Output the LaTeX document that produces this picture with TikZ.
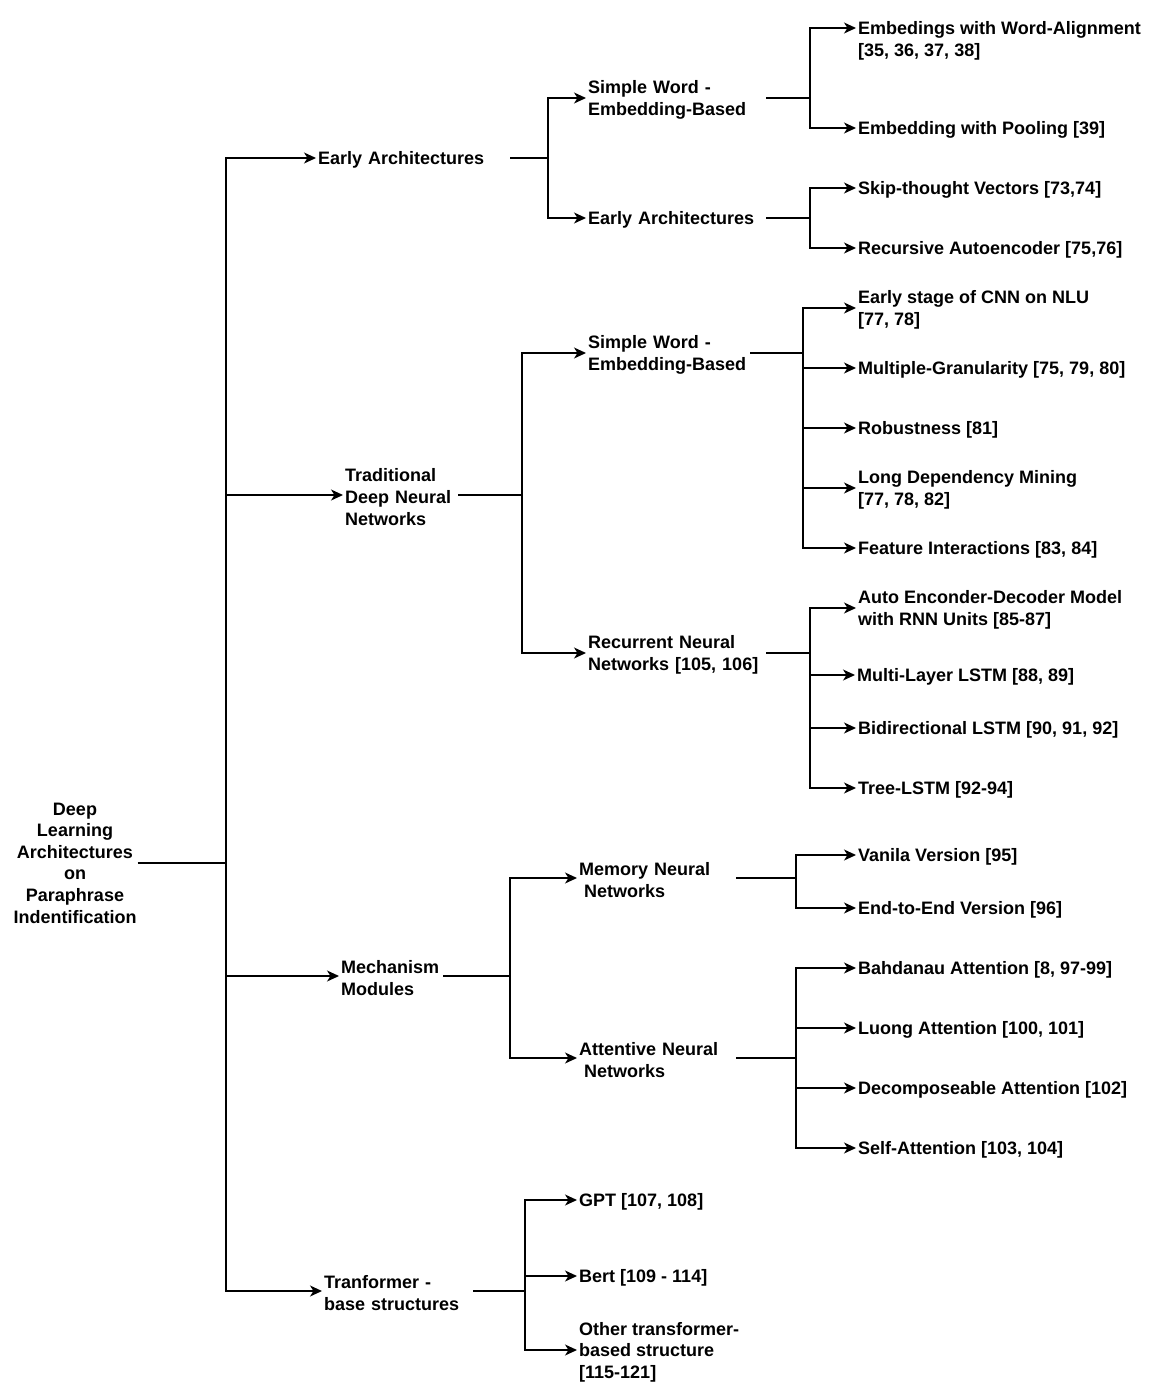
\documentclass[tikz,border=0pt]{standalone}
\usepackage{fontspec}
\setmainfont{Liberation Sans}
\usetikzlibrary{arrows.meta}
\begin{document}
\begin{tikzpicture}[x=1pt,y=-1pt,
  lbl/.style={font=\fontsize{18}{21.6}\selectfont\bfseries, inner xsep=2pt, inner ysep=0pt, align=left, anchor=west, yshift=-2pt},
  conn/.style={line width=1.3pt, -{Stealth[length=12pt,width=11pt,inset=3.5pt]}},
  plain/.style={line width=1.3pt}]
\useasboundingbox (0,0) rectangle (1173,1398);

\begin{scope}[every node/.style={lbl}]
% root
\node[align=center, anchor=center, inner xsep=1pt, yshift=2pt] (root) at (75,863) {Deep\\Learning\\Architectures\\on\\Paraphrase\\Indentification};

% level 1
\node[text width=190pt] (l1a) at (316,158) {Early Architectures};
\node[text width=111pt] (l1b) at (343,495) {Traditional\\Deep Neural\\Networks};
\node[text width=100pt] (l1c) at (339,976) {Mechanism\\Modules};
\node[text width=147pt] (l1d) at (322,1291) {Tranformer -\\base structures};

% level 2
\node[text width=176pt] (sw1) at (586,98) {Simple Word -\\Embedding-Based};
\node[text width=176pt] (ea2) at (586,218) {Early Architectures};
\node[text width=160pt] (sw2) at (586,353) {Simple Word -\\Embedding-Based};
\node[text width=176pt] (rnn) at (586,653) {Recurrent Neural\\Networks [105, 106]};
\node[text width=155pt] (mnn) at (577,878) {Memory Neural\\\hspace*{5pt}Networks};
\node[text width=155pt] (ann) at (577,1058) {Attentive Neural\\\hspace*{5pt}Networks};
\node (gpt) at (577,1200) {GPT [107, 108]};
\node (bert) at (577,1276) {Bert [109 - 114]};
\node (oth) at (577,1350) {Other transformer-\\based structure\\{}[115-121]};

% leaves
\node (e1) at (856,39) {Embedings with Word-Alignment\\{}[35, 36, 37, 38]};
\node (e2) at (856,128) {Embedding with Pooling [39]};
\node (e3) at (856,188) {Skip-thought Vectors [73,74]};
\node (e4) at (856,248) {Recursive Autoencoder [75,76]};
\node (c1) at (856,308) {Early stage of CNN on NLU\\{}[77, 78]};
\node (c2) at (856,368) {Multiple-Granularity [75, 79, 80]};
\node (c3) at (856,428) {Robustness [81]};
\node (c4) at (856,488) {Long Dependency Mining\\{}[77, 78, 82]};
\node (c5) at (856,548) {Feature Interactions [83, 84]};
\node (r1) at (856,608) {Auto Enconder-Decoder Model\\with RNN Units [85-87]};
\node (r2) at (855,675) {Multi-Layer LSTM [88, 89]};
\node (r3) at (856,728) {Bidirectional LSTM [90, 91, 92]};
\node (r4) at (856,788) {Tree-LSTM [92-94]};
\node (m1) at (856,855) {Vanila Version [95]};
\node (m2) at (856,908) {End-to-End Version [96]};
\node (a1) at (856,968) {Bahdanau Attention [8, 97-99]};
\node (a2) at (856,1028) {Luong Attention [100, 101]};
\node (a3) at (856,1088) {Decomposeable Attention [102]};
\node (a4) at (856,1148) {Self-Attention [103, 104]};
\end{scope}

% junction columns
\coordinate (j0) at (226,0);
\coordinate (jea) at (548,0);
\coordinate (jsw1) at (810,0);
\coordinate (jea2) at (810,0);
\coordinate (jtd) at (522,0);
\coordinate (jsw2) at (803,0);
\coordinate (jrnn) at (810,0);
\coordinate (jmm) at (510,0);
\coordinate (jmnn) at (796,0);
\coordinate (jann) at (796,0);
\coordinate (jtb) at (525,0);

% connection points (compensating the text shift)
\coordinate (root-out) at (root.east);
\foreach \c in {l1a,l1b,l1c,l1d,sw1,ea2,sw2,rnn,mnn,ann}
  \coordinate (\c-out) at ([yshift=2pt]\c.east);
\foreach \c in {l1a,l1b,l1c,l1d,sw1,ea2,sw2,rnn,mnn,ann,gpt,bert,oth,e2,e3,e4,c1,c2,c3,c4,c5,r1,r2,r3,r4,m1,m2,a1,a2,a3,a4}
  \coordinate (\c-in) at ([yshift=2pt]\c.west);
\coordinate (e1-in) at ([yshift=13pt]e1.west);

% connectors
\draw[plain] (root-out) -- (root-out -| j0);
\foreach \c in {l1a,l1b,l1c,l1d} \draw[conn] (root-out -| j0) |- (\c-in);

\draw[plain] (l1a-out) -- (l1a-out -| jea);
\foreach \c in {sw1,ea2} \draw[conn] (l1a-out -| jea) |- (\c-in);

\draw[plain] (sw1-out) -- (sw1-out -| jsw1);
\foreach \c in {e1,e2} \draw[conn] (sw1-out -| jsw1) |- (\c-in);

\draw[plain] (ea2-out) -- (ea2-out -| jea2);
\foreach \c in {e3,e4} \draw[conn] (ea2-out -| jea2) |- (\c-in);

\draw[plain] (l1b-out) -- (l1b-out -| jtd);
\foreach \c in {sw2,rnn} \draw[conn] (l1b-out -| jtd) |- (\c-in);

\draw[plain] (sw2-out) -- (sw2-out -| jsw2);
\foreach \c in {c1,c2,c3,c4,c5} \draw[conn] (sw2-out -| jsw2) |- (\c-in);

\draw[plain] (rnn-out) -- (rnn-out -| jrnn);
\foreach \c in {r1,r2,r3,r4} \draw[conn] (rnn-out -| jrnn) |- (\c-in);

\draw[plain] (l1c-out) -- (l1c-out -| jmm);
\foreach \c in {mnn,ann} \draw[conn] (l1c-out -| jmm) |- (\c-in);

\draw[plain] (mnn-out) -- (mnn-out -| jmnn);
\foreach \c in {m1,m2} \draw[conn] (mnn-out -| jmnn) |- (\c-in);

\draw[plain] (ann-out) -- (ann-out -| jann);
\foreach \c in {a1,a2,a3,a4} \draw[conn] (ann-out -| jann) |- (\c-in);

\draw[plain] (l1d-out) -- (l1d-out -| jtb);
\foreach \c in {gpt,bert,oth} \draw[conn] (l1d-out -| jtb) |- (\c-in);
\end{tikzpicture}
\end{document}
